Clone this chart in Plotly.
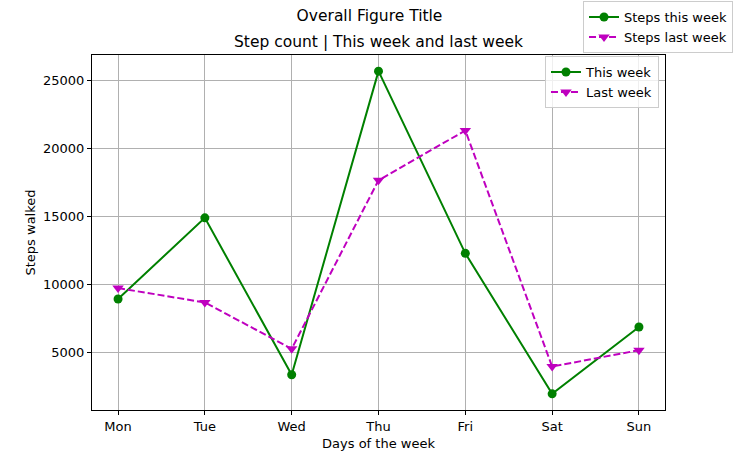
import plotly.graph_objects as go

days = ["Mon", "Tue", "Wed", "Thu", "Fri", "Sat", "Sun"]
this_week = [8950, 14900, 3400, 25650, 12300, 2000, 6900]
last_week = [9750, 8700, 5300, 17650, 21300, 4000, 5200]
y_ticks = [5000, 10000, 15000, 20000, 25000]

GREEN = "#008000"
MAG = "#bf00bf"
FONT = "DejaVu Sans"

x_idx = list(range(len(days)))

fig = go.Figure()
fig.add_trace(go.Scatter(x=x_idx, y=this_week, name="This week", mode="lines+markers",
                         line=dict(color=GREEN, width=2),
                         marker=dict(symbol="circle", size=9, color=GREEN),
                         legend="legend"))
fig.add_trace(go.Scatter(x=x_idx, y=last_week, name="Last week", mode="lines+markers",
                         line=dict(color=MAG, width=2, dash="7px,3px"),
                         marker=dict(symbol="triangle-down", size=10, color=MAG),
                         legend="legend"))
# figure-level legend entries
fig.add_trace(go.Scatter(x=[None], y=[None], name="Steps this week", mode="lines+markers",
                         line=dict(color=GREEN, width=2),
                         marker=dict(symbol="circle", size=9, color=GREEN),
                         legend="legend2"))
fig.add_trace(go.Scatter(x=[None], y=[None], name="Steps last week", mode="lines+markers",
                         line=dict(color=MAG, width=2, dash="7px,3px"),
                         marker=dict(symbol="triangle-down", size=10, color=MAG),
                         legend="legend2"))

lo = min(min(this_week), min(last_week))
hi = max(max(this_week), max(last_week))
pad = (hi - lo) * 0.05

fig.update_layout(
    width=739, height=462,
    margin=dict(l=92, r=74, t=55, b=52, autoexpand=False),
    paper_bgcolor="white", plot_bgcolor="white",
    font=dict(family=FONT, size=13, color="black"),
    title=dict(text="Overall Figure Title", x=0.5, xref="container", xanchor="center",
               y=1 - 16 / 462, yref="container", yanchor="middle",
               font=dict(size=15.5, family=FONT)),
    showlegend=True,
    legend=dict(x=0.9895, y=0.997, xanchor="right", yanchor="top",
                bgcolor="rgba(255,255,255,0.8)", bordercolor="#cccccc", borderwidth=1,
                font=dict(size=13, family=FONT), tracegroupgap=0),
    legend2=dict(x=1.1187, y=1.152, xanchor="right", yanchor="top",
                 bgcolor="rgba(255,255,255,0.8)", bordercolor="#cccccc", borderwidth=1,
                 font=dict(size=13, family=FONT), tracegroupgap=0),
    xaxis=dict(range=[-0.3, 6.3], tickmode="array", tickvals=x_idx, ticktext=days,
               showgrid=True, gridcolor="#b0b0b0", gridwidth=1, automargin=False,
               showline=True, linecolor="black", linewidth=1, mirror=True,
               ticks="outside", ticklen=4, tickcolor="black", zeroline=False,
               title=dict(text="Days of the week", font=dict(size=13), standoff=6)),
    yaxis=dict(range=[lo - pad, hi + pad], tickmode="array", tickvals=y_ticks,
               ticktext=[str(v) for v in y_ticks], automargin=False,
               showgrid=True, gridcolor="#b0b0b0", gridwidth=1,
               showline=True, linecolor="black", linewidth=1, mirror=True,
               ticks="outside", ticklen=4, tickcolor="black", zeroline=False,
               title=dict(text="Steps walked", font=dict(size=13), standoff=4)),
    annotations=[dict(text="Step count | This week and last week", x=0.5, xref="paper",
                      y=1 + 13 / 355, yref="paper", yanchor="middle", xanchor="center",
                      showarrow=False, font=dict(size=15.5, family=FONT))],
)

fig.write_html("out.html", config={"displayModeBar": False},
               post_script="document.body.style.margin='0';document.body.style.overflow='hidden';")
